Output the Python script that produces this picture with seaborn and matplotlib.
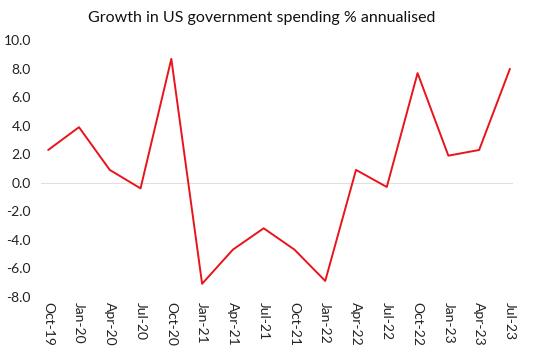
import matplotlib
matplotlib.use("Agg")
import matplotlib.pyplot as plt
import seaborn as sns
import pandas as pd

quarters = ["Oct-19", "Jan-20", "Apr-20", "Jul-20", "Oct-20", "Jan-21", "Apr-21", "Jul-21",
            "Oct-21", "Jan-22", "Apr-22", "Jul-22", "Oct-22", "Jan-23", "Apr-23", "Jul-23"]
growth = [2.3, 3.9, 0.9, -0.4, 8.7, -7.1, -4.7, -3.2,
          -4.7, -6.9, 0.9, -0.3, 7.7, 1.9, 2.3, 8.0]
yticks = [-8, -6, -4, -2, 0, 2, 4, 6, 8, 10]

sns.set_style("white")
plt.rcParams['font.family'] = ['Lato', 'DejaVu Sans']

data = pd.DataFrame({'q': range(len(quarters)), 'g': growth})

fig, ax = plt.subplots(figsize=(5.4, 3.51), dpi=100)
fig.subplots_adjust(left=0.075, right=0.95, top=0.885, bottom=0.155)

ax.axhline(0, color='#e0e0e0', lw=0.8, zorder=1)
sns.lineplot(data=data, x='q', y='g', color='#e8141c', lw=1.4, ax=ax, zorder=3)

ax.set_xlim(-0.25, 15.1)
ax.set_ylim(-8, 10)
ax.set_yticks(yticks)
ax.set_yticklabels([f"{v:.1f}" for v in yticks], fontsize=10, color='#222222')
ax.set_xticks(range(len(quarters)))
ax.set_xticklabels(quarters, rotation=270, fontsize=10, color='#222222')
ax.tick_params(axis='y', length=0, pad=7)
ax.tick_params(axis='x', length=0, pad=4)
ax.set_xlabel("")
ax.set_ylabel("")
for s in ax.spines.values():
    s.set_visible(False)

fig.text(0.484, 0.95, "Growth in US government spending % annualised",
         fontsize=11.5, color='#111111', ha='center', va='center')

fig.savefig("out.png", dpi=100)
